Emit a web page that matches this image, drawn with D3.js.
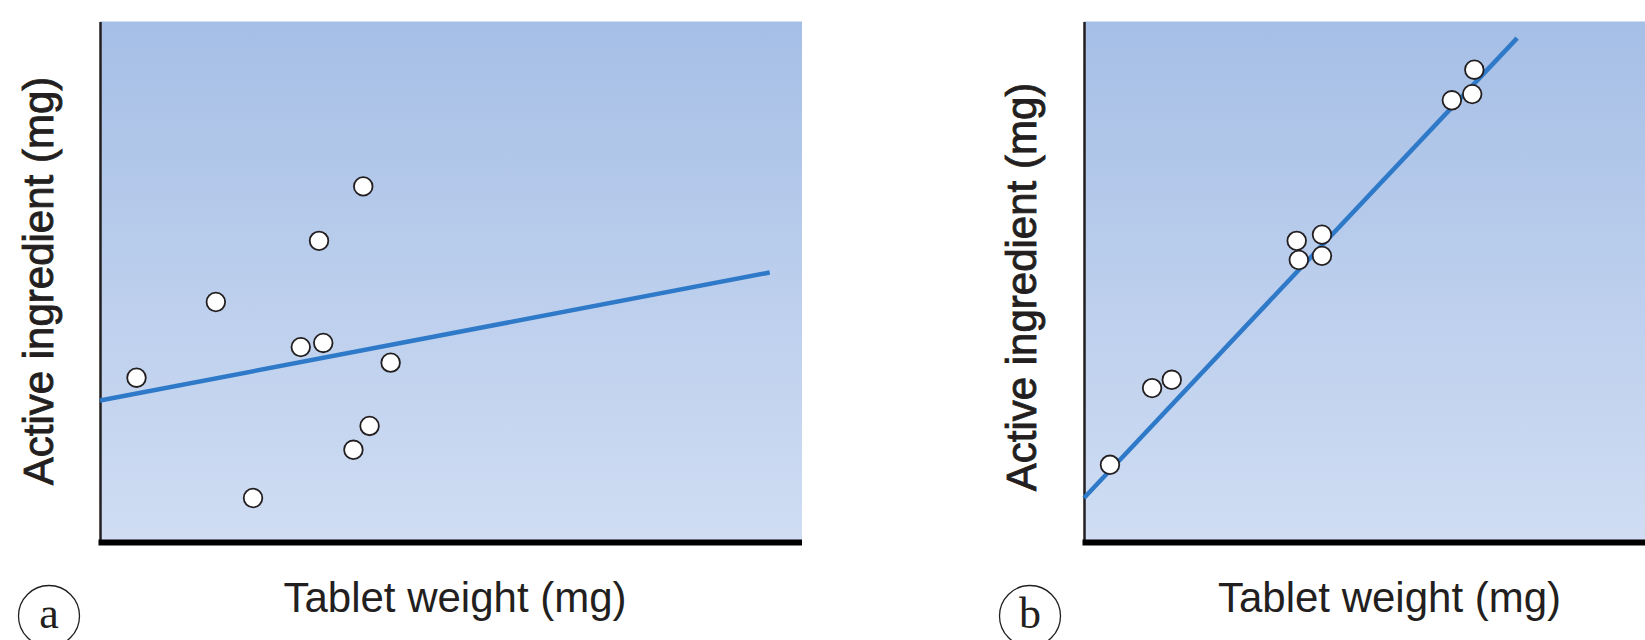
<!DOCTYPE html>
<html>
<head>
<meta charset="utf-8">
<script src="https://cdn.jsdelivr.net/npm/d3@7"></script>
<style>
  html, body { margin: 0; padding: 0; background: #fff; overflow: hidden; }
  svg { display: block; }
</style>
</head>
<body>
<svg id="chart" width="1645" height="640"></svg>
<script>
// ---- data (arbitrary units: 0-100 on each axis) ----
const panelLabels = ["a", "b"];
const xTitle = "Tablet weight (mg)";
const yTitle = "Active ingredient (mg)";

const aWeight = [5.2, 16.5, 21.8, 28.6, 31.8, 31.2, 37.5, 41.4, 38.4, 36.1];
const aActive = [31.3, 45.9, 8.1, 37.2, 38.0, 57.7, 68.2, 34.2, 22.0, 17.4];
const aFitX = [0, 95.4];
const aFitY = [26.9, 51.6];

const bWeight = [3.7, 9.7, 12.5, 30.3, 33.9, 30.6, 33.9, 52.4, 55.3, 55.6];
const bActive = [14.5, 29.3, 30.9, 57.7, 58.9, 54.0, 54.8, 84.8, 86.0, 90.7];
const bFitX = [0, 61.7];
const bFitY = [8.1, 96.8];

// ---- drawing ----
const svg = d3.select("#chart");
const defs = svg.append("defs");
const grad = defs.append("linearGradient").attr("id", "bg")
  .attr("x1", 0).attr("y1", 0).attr("x2", 0).attr("y2", 1);
grad.append("stop").attr("offset", "0%").attr("stop-color", "#a6bfe6");
grad.append("stop").attr("offset", "100%").attr("stop-color", "#d0ddf3");

const panels = [
  { label: panelLabels[0], left: 100, right: 802, xs: aWeight, ys: aActive, fx: aFitX, fy: aFitY,
    yLabelX: 52.5, yLabelY: 281, xLabelX: 455, circX: 49 },
  { label: panelLabels[1], left: 1084, right: 1786, xs: bWeight, ys: bActive, fx: bFitX, fy: bFitY,
    yLabelX: 1036, yLabelY: 287, xLabelX: 1389.5, circX: 1030 }
];

const plotTop = 21.5, plotBottom = 540;
const ink = "#231f20";

panels.forEach(p => {
  const x = d3.scaleLinear().domain([0, 100]).range([p.left, p.right]);
  const y = d3.scaleLinear().domain([0, 100]).range([plotBottom, plotTop]);
  const g = svg.append("g");

  // plot background
  g.append("rect")
    .attr("x", x(0)).attr("y", y(100))
    .attr("width", x(100) - x(0)).attr("height", y(0) - y(100) + 3)
    .attr("fill", "url(#bg)");

  // left axis (no ticks)
  const ya = g.append("g").attr("transform", `translate(${x(0)},0)`)
    .call(d3.axisLeft(y).tickValues([]).tickSizeOuter(0));
  ya.select(".domain").attr("stroke", ink).attr("stroke-width", 2.5);

  // bottom axis (thick, no ticks)
  const xa = g.append("g").attr("transform", `translate(0,${plotBottom + 2.5})`)
    .call(d3.axisBottom(x).tickValues([]).tickSizeOuter(0));
  xa.select(".domain").attr("stroke", "#000").attr("stroke-width", 6)
    .attr("d", `M${x(0) - 1.5},0H${x(100)}`);

  // regression line
  const fit = p.fx.map((v, i) => [v, p.fy[i]]);
  g.append("path")
    .datum(fit)
    .attr("d", d3.line().x(d => x(d[0])).y(d => y(d[1])))
    .attr("stroke", "#2f79c9").attr("stroke-width", 4.5).attr("fill", "none");

  // points
  const pts = p.xs.map((v, i) => [v, p.ys[i]]);
  g.selectAll("circle.pt").data(pts).enter().append("circle")
    .attr("class", "pt")
    .attr("cx", d => x(d[0])).attr("cy", d => y(d[1]))
    .attr("r", 9.3)
    .attr("fill", "#fff").attr("stroke", ink).attr("stroke-width", 1.8);

  // y title
  g.append("text")
    .attr("transform", `translate(${p.yLabelX},${p.yLabelY}) rotate(-90)`)
    .attr("text-anchor", "middle")
    .attr("font-family", "'Liberation Sans', Arial, sans-serif")
    .attr("font-size", 42)
    .attr("fill", ink).attr("stroke", ink).attr("stroke-width", 0.9)
    .text(yTitle);

  // x title
  g.append("text")
    .attr("x", p.xLabelX).attr("y", 612)
    .attr("text-anchor", "middle")
    .attr("font-family", "'Liberation Sans', Arial, sans-serif")
    .attr("font-size", 42)
    .attr("fill", ink)
    .text(xTitle);

  // panel letter in circle
  g.append("circle")
    .attr("cx", p.circX).attr("cy", 616).attr("r", 30.5)
    .attr("fill", "none").attr("stroke", ink).attr("stroke-width", 1.3);
  g.append("text")
    .attr("x", p.circX).attr("y", 628)
    .attr("text-anchor", "middle")
    .attr("font-family", "'Liberation Serif', 'Times New Roman', serif")
    .attr("font-size", 44)
    .attr("fill", ink)
    .text(p.label);
});
</script>
</body>
</html>
